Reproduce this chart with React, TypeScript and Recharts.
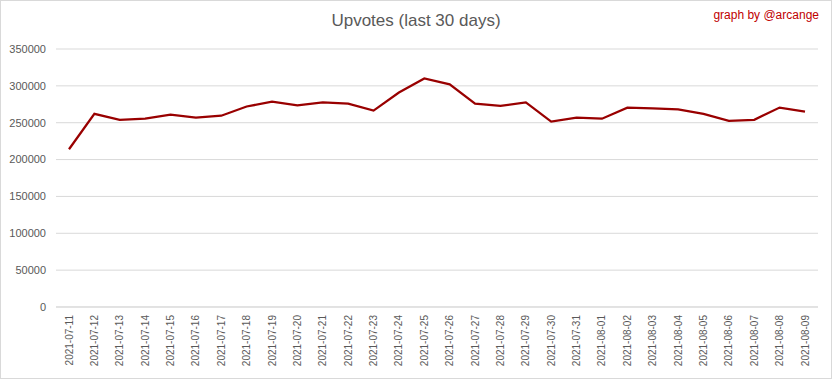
import { LineChart, Line, XAxis, YAxis, CartesianGrid } from "recharts";

const dates = [
  "2021-07-11", "2021-07-12", "2021-07-13", "2021-07-14", "2021-07-15", "2021-07-16",
  "2021-07-17", "2021-07-18", "2021-07-19", "2021-07-20", "2021-07-21", "2021-07-22",
  "2021-07-23", "2021-07-24", "2021-07-25", "2021-07-26", "2021-07-27", "2021-07-28",
  "2021-07-29", "2021-07-30", "2021-07-31", "2021-08-01", "2021-08-02", "2021-08-03",
  "2021-08-04", "2021-08-05", "2021-08-06", "2021-08-07", "2021-08-08", "2021-08-09",
];

const upvotes = [
  214000, 262000, 254000, 255500, 261000, 257000,
  259500, 272000, 278500, 273500, 277500, 276000,
  266500, 291000, 310000, 302000, 276000, 273000,
  277500, 251500, 257000, 255500, 270500, 269500,
  268000, 262000, 252500, 254000, 270500, 265000,
];

const yTicks = [0, 50000, 100000, 150000, 200000, 250000, 300000, 350000];

const data = dates.map((d, i) => ({ date: d, upvotes: upvotes[i] }));

const font = "Liberation Sans, Arial, sans-serif";

function DateTick({ x, y, payload }: any) {
  return (
    <g transform={`translate(${x},${y})`}>
      <text transform="rotate(-90)" textAnchor="end" dy="0.35em" fontSize={10} fill="#595959" fontFamily={font}>
        {payload.value}
      </text>
    </g>
  );
}

export default function App() {
  return (
    <div
      style={{
        position: "absolute",
        left: 0,
        top: 0,
        width: 832,
        height: 379,
        boxSizing: "border-box",
        border: "1px solid #d9d9d9",
        background: "#fff",
        fontFamily: font,
      }}
    >
      <div style={{ position: "absolute", left: 0, right: 0, top: 10, textAlign: "center", fontSize: 17, color: "#595959" }}>
        Upvotes (last 30 days)
      </div>
      <div style={{ position: "absolute", right: 12, top: 7, fontSize: 12, color: "#c00000" }}>graph by @arcange</div>
      <LineChart
        width={830}
        height={377}
        data={data}
        margin={{ top: 48, right: 13, left: 0, bottom: 4 }}
        style={{ position: "absolute", left: 0, top: 0 }}
      >
        <CartesianGrid vertical={false} stroke="#d9d9d9" />
        <XAxis
          dataKey="date"
          interval={0}
          tickLine={false}
          axisLine={{ stroke: "#d9d9d9" }}
          height={67}
          padding={{ left: 13, right: 13 }}
          tick={<DateTick />}
        />
        <YAxis
          domain={[0, 350000]}
          ticks={yTicks}
          width={55}
          tickLine={false}
          axisLine={false}
          tickMargin={4}
          tick={{ fontSize: 11, fill: "#595959", fontFamily: font }}
        />
        <Line
          type="linear"
          dataKey="upvotes"
          stroke="#990000"
          strokeWidth={2.25}
          dot={false}
          isAnimationActive={false}
        />
      </LineChart>
    </div>
  );
}
